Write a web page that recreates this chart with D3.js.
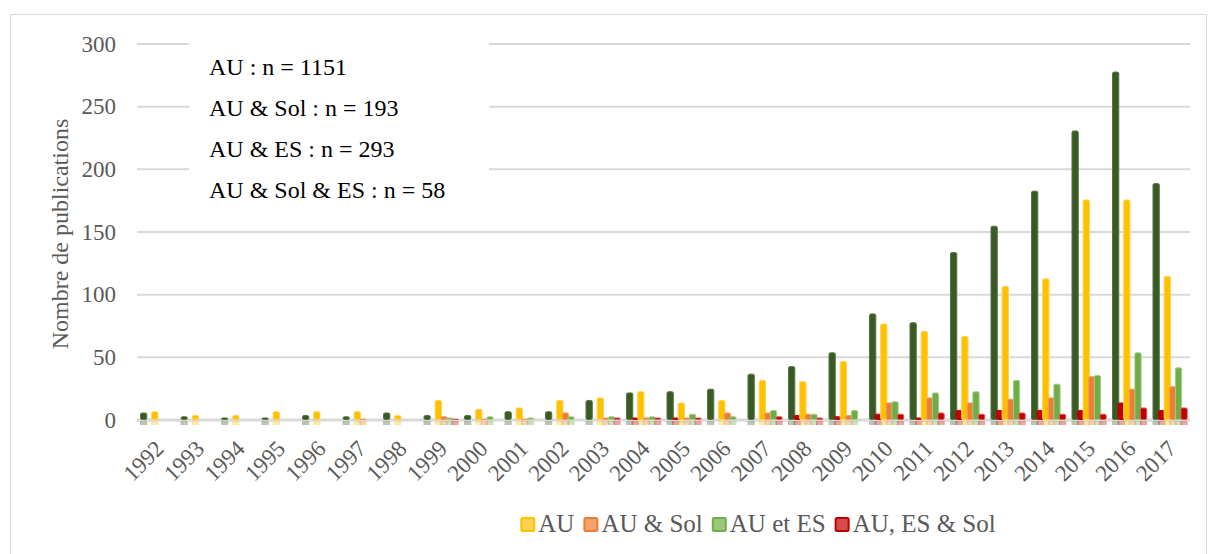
<!DOCTYPE html>
<html>
<head>
<meta charset="utf-8">
<script src="https://cdn.jsdelivr.net/npm/d3@7"></script>
<style>
  body { margin: 0; background: #fff; }
  svg { display: block; font-family: "Liberation Serif", "Times New Roman", serif; }
</style>
</head>
<body>
<svg width="1209" height="554"></svg>
<script>
// values
const years = ['1992', '1993', '1994', '1995', '1996', '1997', '1998', '1999', '2000', '2001', '2002', '2003', '2004',
  '2005', '2006', '2007', '2008', '2009', '2010', '2011', '2012', '2013', '2014', '2015', '2016', '2017'];
const total = [6, 3, 2, 2, 4, 3, 6, 4, 4, 7, 7, 16, 22, 23, 25, 37, 43, 54, 85, 78, 134, 155, 183, 231, 278, 189];
const esSolBis = [0, 0, 0, 0, 0, 0, 0, 0, 0, 0, 0, 0, 2, 2, 0, 0, 4, 3, 5, 2, 8, 8, 8, 8, 14, 8];
const au = [7, 4, 4, 7, 7, 7, 4, 16, 9, 10, 16, 18, 23, 14, 16, 32, 31, 47, 77, 71, 67, 107, 113, 176, 176, 115];
const auSol = [0, 0, 0, 0, 0, 1, 0, 3, 1, 1, 6, 2, 2, 2, 6, 6, 5, 4, 14, 18, 14, 17, 18, 35, 25, 27];
const auEs = [0, 0, 0, 0, 0, 0, 0, 2, 3, 2, 3, 3, 3, 5, 3, 8, 5, 8, 15, 22, 23, 32, 29, 36, 54, 42];
const auEsSol = [0, 0, 0, 0, 0, 0, 0, 1, 0, 0, 0, 2, 2, 2, 0, 3, 2, 0, 5, 6, 5, 6, 5, 5, 10, 10];
const yTicks = [0, 50, 100, 150, 200, 250, 300];
const notes = ['AU : n = 1151', 'AU & Sol : n = 193', 'AU & ES : n = 293', 'AU & Sol & ES : n = 58'];

const series = [
  { key: 'total', name: null, values: total, fill: '#3a5a25', stroke: '#56763f' },
  { key: 'esSolBis', name: null, values: esSolBis, fill: '#c00000', stroke: '#c00000' },
  { key: 'au', name: 'AU', values: au, fill: '#ffc000', stroke: '#ffd34d' },
  { key: 'auSol', name: 'AU & Sol', values: auSol, fill: '#ed7d31', stroke: '#f29b60' },
  { key: 'auEs', name: 'AU et ES', values: auEs, fill: '#70ad47', stroke: '#a5cc8a' },
  { key: 'auEsSol', name: 'AU, ES & Sol', values: auEsSol, fill: '#c00000', stroke: '#dc5a5a' }
];

const plot = { left: 137, right: 1190, top: 44, bottom: 420 };

const svg = d3.select('svg');

// outer chart frame
svg.append('rect')
  .attr('x', 10.5).attr('y', 14.5)
  .attr('width', 1196).attr('height', 560)
  .attr('fill', 'none')
  .attr('stroke', '#d9d9d9');

const x = d3.scaleBand().domain(years).range([plot.left, plot.right]);
const y = d3.scaleLinear().domain([0, 300]).range([plot.bottom, plot.top]);

const bw = x.bandwidth();
const step = bw * 0.138;
const barW = bw * 0.18;
const sub = d3.scaleBand()
  .domain(series.map(s => s.key))
  .range([bw * 0.074, bw * 0.074 + step * series.length]);

// gridlines
svg.append('g').selectAll('line')
  .data(yTicks)
  .enter().append('line')
    .attr('x1', plot.left).attr('x2', plot.right)
    .attr('y1', d => y(d)).attr('y2', d => y(d))
    .attr('stroke', '#d9d9d9')
    .attr('stroke-width', d => d === 0 ? 3 : 2);

// y tick labels
svg.append('g').selectAll('text')
  .data(yTicks)
  .enter().append('text')
    .attr('x', 116)
    .attr('y', d => y(d))
    .attr('dy', '0.34em')
    .attr('text-anchor', 'end')
    .attr('font-size', 23)
    .attr('fill', '#595959')
    .text(d => d);

svg.append('text')
  .attr('transform', `translate(68,${(plot.top + plot.bottom) / 2 + 2}) rotate(-90)`)
  .attr('text-anchor', 'middle')
  .attr('font-size', 24)
  .attr('fill', '#595959')
  .text('Nombre de publications');

// bars
const groups = svg.append('g').selectAll('g')
  .data(series)
  .enter().append('g');

// faint reflection below the axis
groups.selectAll('rect.refl')
  .data(s => s.values.map((v, i) => ({ v, year: years[i], s })))
  .enter().append('rect')
    .attr('class', 'refl')
    .filter(d => d.v > 0)
    .attr('x', d => x(d.year) + sub(d.s.key))
    .attr('y', plot.bottom + 1)
    .attr('width', barW)
    .attr('height', 4)
    .attr('fill', d => d.s.fill)
    .attr('opacity', 0.35);

groups.selectAll('rect.bar')
  .data(s => s.values.map((v, i) => ({ v, year: years[i], s })))
  .enter().append('rect')
    .attr('class', 'bar')
    .filter(d => d.v > 0)
    .attr('x', d => x(d.year) + sub(d.s.key) + 0.5)
    .attr('y', d => y(d.v) + 0.5)
    .attr('width', barW - 1)
    .attr('height', d => Math.max(0, y(0) - y(d.v) - 1))
    .attr('rx', 1.5)
    .attr('fill', d => d.s.fill)
    .attr('stroke', d => d.s.stroke)
    .attr('stroke-width', 1);

// x labels, rotated
svg.append('g').selectAll('text')
  .data(years)
  .enter().append('text')
    .attr('transform', d => `translate(${x(d) + bw / 2 + 8},450) rotate(-45)`)
    .attr('text-anchor', 'end')
    .attr('font-size', 23)
    .attr('fill', '#595959')
    .text(d => d);

// annotation box
svg.append('rect')
  .attr('x', 189).attr('y', 36)
  .attr('width', 300).attr('height', 180)
  .attr('fill', '#fff');

svg.append('g').selectAll('text')
  .data(notes)
  .enter().append('text')
    .attr('x', 209)
    .attr('y', (d, i) => 75 + i * 41)
    .attr('font-size', 24)
    .attr('fill', '#000')
    .text(d => d);

// legend
const legendItems = series.filter(s => s.name);
const legend = svg.append('g');
let lx = 0;
legendItems.forEach((s) => {
  const item = legend.append('g').attr('transform', `translate(${lx},0)`);
  item.append('rect')
    .attr('x', 1).attr('y', -14)
    .attr('width', 13).attr('height', 13)
    .attr('rx', 1.5)
    .attr('fill', d3.interpolateRgb(s.fill, '#fff')(0.3))
    .attr('stroke', s.fill)
    .attr('stroke-width', 2);
  const t = item.append('text')
    .attr('x', 18).attr('y', 0)
    .attr('font-size', 25)
    .attr('fill', '#595959')
    .text(s.name);
  lx += 18 + t.node().getComputedTextLength() + 9;
});
legend.attr('transform', `translate(${758 - (lx - 9) / 2},532)`);
</script>
</body>
</html>
